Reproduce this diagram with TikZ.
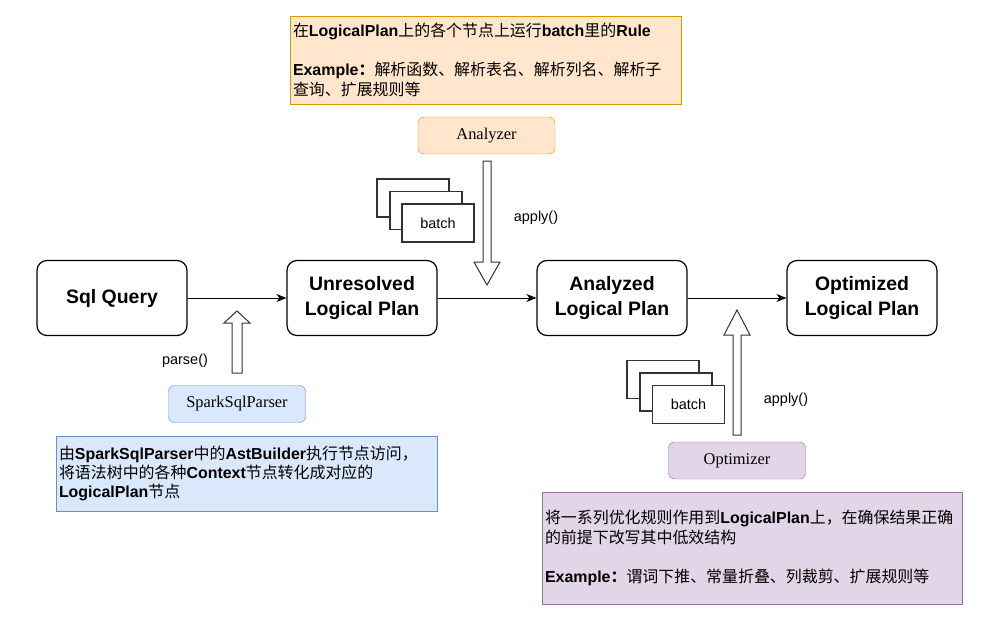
\documentclass[tikz,border=0pt]{standalone}
\usepackage{fontspec}
\setmainfont{Liberation Sans}
\newfontfamily\cjk{Noto Sans CJK SC}
\newfontfamily\latin{Liberation Sans}
\newfontfamily\serif{Liberation Serif}
\usetikzlibrary{arrows.meta,shapes}
\definecolor{orangefill}{HTML}{FFE6CC}
\definecolor{orangeline}{HTML}{D79B00}
\definecolor{bluefill}{HTML}{DAE8FC}
\definecolor{blueline}{HTML}{6C8EBF}
\definecolor{purplefill}{HTML}{E1D5E7}
\definecolor{purpleline}{HTML}{9673A6}
\newcommand{\en}[1]{{\latin\bfseries #1}}
\tikzset{
  plan/.style={draw,rounded corners=10bp,line width=1.2bp,minimum width=150bp,minimum height=75bp,align=center,font=\fontsize{19.5}{25}\selectfont\bfseries},
  flow/.style={-{Stealth[length=10bp,width=8bp,inset=3bp]},line width=1bp},
  tool/.style={draw,rounded corners=6bp,minimum width=137bp,minimum height=37bp,font=\serif\fontsize{16.5}{19}\selectfont},
  note/.style={draw,align=left,inner xsep=3bp,inner ysep=0bp,font=\cjk\fontsize{16}{19.5}\selectfont},
  batchbox/.style={draw=black!80,fill=white,line width=1.3bp,minimum width=72bp,minimum height=38bp,font=\fontsize{14.5}{17}\selectfont},
  hollow/.style={draw=black!80,fill=white,line width=1bp},
  call/.style={font=\fontsize{14.5}{17}\selectfont}
}
\begin{document}
\begin{tikzpicture}
\useasboundingbox (0bp,0bp) rectangle (1006bp,-628bp);

% main flow
\node (SQL) at (112bp,-298bp)[plan] {Sql Query};
\node (ULP) at (362bp,-298bp)[plan] {Unresolved\\Logical Plan};
\node (ALP) at (612bp,-298bp)[plan] {Analyzed\\Logical Plan};
\node (OLP) at (862bp,-298bp)[plan] {Optimized\\Logical Plan};
\draw [flow] (SQL) -- (ULP);
\draw [flow] (ULP) -- (ALP);
\draw [flow] (ALP) -- (OLP);

% parser
\node (Parser) at (237bp,-404bp)[tool,fill=bluefill,draw=blueline] {SparkSqlParser};
\draw [hollow] (232bp,-373bp) -- (232bp,-323bp) -- (224bp,-323bp) -- (237bp,-311bp) -- (250bp,-323bp) -- (242bp,-323bp) -- (242bp,-373bp) -- cycle;
\node (ParseCall) at (185bp,-361bp)[call] {parse()};
\node (ParserNote) at (246.5bp,-473.5bp)[note,fill=bluefill,draw=blueline,minimum width=381bp,minimum height=75bp,text width=375bp]
  {由\en{SparkSqlParser}中的\en{AstBuilder}执行节点访问，\\将语法树中的各种\en{Context}节点转化成对应的\\\en{LogicalPlan}节点};

% analyzer
\node (AnalyzerNote) at (485.5bp,-60bp)[note,fill=orangefill,draw=orangeline,minimum width=391bp,minimum height=88bp,text width=385bp]
  {在\en{LogicalPlan}上的各个节点上运行\en{batch}里的\en{Rule}\\[19.5bp]\en{Example}{\bfseries ：}解析函数、解析表名、解析列名、解析子\\查询、扩展规则等};
\node (Analyzer) at (486.5bp,-135.5bp)[tool,fill=orangefill,draw=orangeline] {Analyzer};
\draw [hollow] (483bp,-161bp) -- (483bp,-262bp) -- (474bp,-262bp) -- (487bp,-285bp) -- (500bp,-262bp) -- (491bp,-262bp) -- (491bp,-161bp) -- cycle;
\node (BatchA1) at (413bp,-198bp)[batchbox] {};
\node (BatchA2) at (426bp,-210.5bp)[batchbox] {};
\node (BatchA3) at (438bp,-223bp)[batchbox] {batch};
\node (ApplyA) at (536bp,-218bp)[call] {apply()};

% optimizer
\node (Optimizer) at (737bp,-460.5bp)[tool,fill=purplefill,draw=purpleline] {Optimizer};
\draw [hollow] (733bp,-435bp) -- (733bp,-335bp) -- (724bp,-335bp) -- (737bp,-310bp) -- (750bp,-335bp) -- (741bp,-335bp) -- (741bp,-435bp) -- cycle;
\node (BatchO1) at (663bp,-379.5bp)[batchbox] {};
\node (BatchO2) at (676bp,-392bp)[batchbox] {};
\node (BatchO3) at (688.5bp,-404.5bp)[batchbox] {batch};
\node (ApplyO) at (786bp,-400bp)[call] {apply()};
\node (OptimizerNote) at (752bp,-548bp)[note,fill=purplefill,draw=purpleline,minimum width=420bp,minimum height=112bp,text width=414bp]
  {将一系列优化规则作用到\en{LogicalPlan}上，在确保结果正确\\的前提下改写其中低效结构\\[19.5bp]\en{Example}{\bfseries ：}谓词下推、常量折叠、列裁剪、扩展规则等};
\end{tikzpicture}
\end{document}
